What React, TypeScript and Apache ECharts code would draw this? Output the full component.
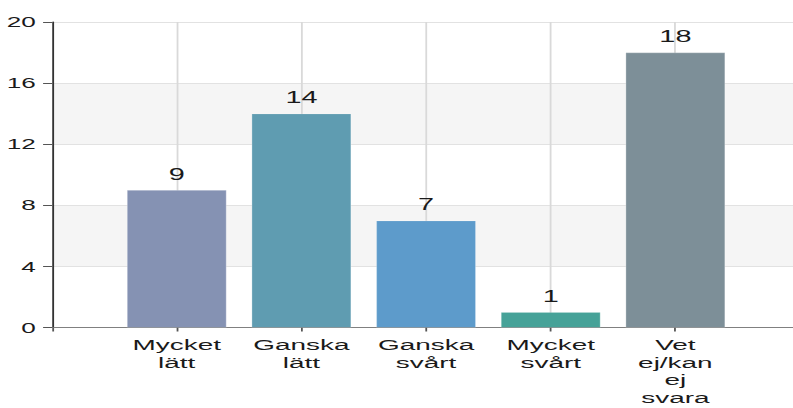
import React, { useEffect, useRef } from "react";
import * as echarts from "echarts";

const categories = ["", "Mycket\nlätt", "Ganska\nlätt", "Ganska\nsvårt", "Mycket\nsvårt", "Vet\nej/kan\nej\nsvara", ""];
const values: (number | null)[] = [null, 9, 14, 7, 1, 18, null];
const barColors = ["", "#8592b3", "#5f9cb1", "#5d9bcb", "#46a298", "#7d8f98", ""];
const yTicks = { min: 0, max: 20, interval: 4 };

const W = 440;
const CW = 452;
const H = 408;
const SX = 793 / W;

export default function App() {
  const ref = useRef<HTMLDivElement>(null);
  useEffect(() => {
    if (!ref.current) return;
    const chart = echarts.init(ref.current, undefined, { renderer: "svg", width: CW, height: H });
    const font = "'Liberation Sans', Arial, sans-serif";
    chart.setOption({
      animation: false,
      grid: { left: 28.9, top: 22, width: 415, height: 305.5, containLabel: false },
      xAxis: {
        type: "category",
        data: categories,
        boundaryGap: false,
        axisLine: { show: true, lineStyle: { color: "#808080", width: 1 } },
        axisTick: { show: true, length: 4, alignWithLabel: true, lineStyle: { color: "#555" } },
        axisLabel: { interval: 0, margin: 9, color: "#1a1a1a", fontSize: 15.5, fontFamily: font, lineHeight: 17.5 },
        splitLine: { show: true, lineStyle: { color: "#d9d9d9", width: 1 } },
      },
      yAxis: {
        type: "value",
        min: yTicks.min,
        max: yTicks.max,
        interval: yTicks.interval,
        axisLine: { show: true, lineStyle: { color: "#333", width: 1 } },
        axisTick: { show: true, length: 5, lineStyle: { color: "#555" } },
        axisLabel: { margin: 9, color: "#1a1a1a", fontSize: 14.5, fontFamily: font },
        splitLine: { show: true, lineStyle: { color: "#e2e2e2", width: 1 } },
        splitArea: { show: true, areaStyle: { color: ["#ffffff", "#f5f5f5"] } },
      },
      series: [
        {
          type: "bar",
          barWidth: 55.5,
          data: values.map((v, i) => ({
            value: v,
            itemStyle: { color: barColors[i], borderColor: "rgba(255,255,255,0.25)", borderWidth: 0.6 },
          })),
          label: { show: true, position: "top", distance: 8, color: "#1a1a1a", fontSize: 16, fontFamily: font },
        },
      ],
    });
    return () => chart.dispose();
  }, []);
  return (
    <div style={{ position: "absolute", left: 0, top: 0, width: 793, height: H, overflow: "hidden", background: "#fff" }}>
      <div
        ref={ref}
        style={{ width: CW, height: H, transform: `scaleX(${SX})`, transformOrigin: "0 0" }}
      />
    </div>
  );
}
